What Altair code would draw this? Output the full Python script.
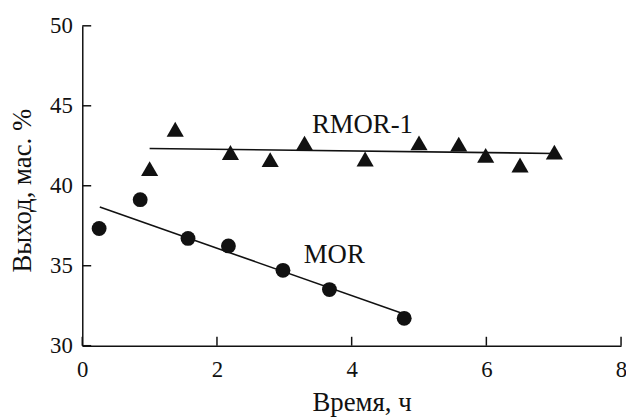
import altair as alt
import pandas as pd

# RMOR-1 (triangles)
rmor_x = [1.0, 1.38, 2.2, 2.79, 3.3, 4.2, 5.0, 5.59, 5.99, 6.5, 7.01]
rmor_y = [41.07, 43.53, 42.08, 41.63, 42.67, 41.67, 42.68, 42.6, 41.9, 41.3, 42.1]
# MOR (circles)
mor_x = [0.25, 0.86, 1.57, 2.17, 2.98, 3.67, 4.78]
mor_y = [37.33, 39.13, 36.71, 36.24, 34.71, 33.51, 31.71]
# fitted lines
rmor_fit_x = [1.0, 7.0]
rmor_fit_y = [42.33, 42.02]
mor_fit_x = [0.26, 4.8]
mor_fit_y = [38.67, 31.95]
# axes
x_ticks = [0, 2, 4, 6, 8]
y_ticks = [30, 35, 40, 45, 50]
# annotations
labels = ["RMOR-1", "MOR"]
label_x = [3.41, 3.29]
label_y = [43.31, 35.16]

W, H = 544, 323
FONT = "Liberation Serif"
INK = "#111111"

xs = alt.Scale(domain=[0, 8], nice=False, zero=False)
ys = alt.Scale(domain=[30, 50], nice=False, zero=False)

xaxis = alt.Axis(values=x_ticks, format="d", title="Время, ч", grid=False, ticks=False,
                 labelFlush=False, labelOverlap=False,
                 domainColor=INK, domainWidth=1.5, labelFont=FONT, labelFontSize=23,
                 labelColor=INK, labelBaseline="alphabetic", labelPadding=31,
                 titleFont=FONT, titleFontSize=27, titleFontWeight="normal",
                 titleColor=INK, titleX=282, titleY=65, titleBaseline="alphabetic",
                 titleAlign="center")
yaxis = alt.Axis(values=y_ticks, format="d", title="Выход, мас. %", grid=False, ticks=False,
                 labelFlush=False, labelOverlap=False,
                 domainColor=INK, domainWidth=1.5, labelFont=FONT, labelFontSize=23,
                 labelColor=INK, labelPadding=10,
                 titleFont=FONT, titleFontSize=27, titleFontWeight="normal",
                 titleColor=INK, titleX=-52, titleY=166, titleBaseline="alphabetic",
                 titleAlign="center", titleAngle=270)

rmor = pd.DataFrame({"x": rmor_x, "y": rmor_y})
mor = pd.DataFrame({"x": mor_x, "y": mor_y})
rfit = pd.DataFrame({"x": rmor_fit_x, "y": rmor_fit_y})
mfit = pd.DataFrame({"x": mor_fit_x, "y": mor_fit_y})
lab = pd.DataFrame({"t": labels, "x": label_x, "y": label_y})
xt = pd.DataFrame({"x": [float(v) for v in x_ticks]})
yt = pd.DataFrame({"y": [float(v) for v in y_ticks]})

base_axes = alt.Chart(rmor).mark_point(opacity=0).encode(
    x=alt.X("x:Q", scale=xs, axis=xaxis),
    y=alt.Y("y:Q", scale=ys, axis=yaxis),
)

rfit_line = alt.Chart(rfit).mark_line(color=INK, strokeWidth=1.6).encode(
    x=alt.X("x:Q", scale=xs), y=alt.Y("y:Q", scale=ys))
mfit_line = alt.Chart(mfit).mark_line(color=INK, strokeWidth=1.6).encode(
    x=alt.X("x:Q", scale=xs), y=alt.Y("y:Q", scale=ys))

tri = alt.Chart(rmor).mark_point(shape="triangle-up", filled=True, color=INK,
                                 size=300, opacity=1, strokeWidth=0).encode(
    x=alt.X("x:Q", scale=xs), y=alt.Y("y:Q", scale=ys))
circ = alt.Chart(mor).mark_point(shape="circle", filled=True, color=INK,
                                 size=225, opacity=1, strokeWidth=0).encode(
    x=alt.X("x:Q", scale=xs), y=alt.Y("y:Q", scale=ys))

txt = alt.Chart(lab).mark_text(font=FONT, fontSize=27, color=INK, align="left",
                               baseline="alphabetic").encode(
    x=alt.X("x:Q", scale=xs), y=alt.Y("y:Q", scale=ys), text="t:N")

xtick = alt.Chart(xt).mark_tick(color=INK, thickness=1.5, size=9, orient="vertical",
                                opacity=1).encode(
    x=alt.X("x:Q", scale=xs), y=alt.value(H - 4.5))
ytick = alt.Chart(yt).mark_tick(color=INK, thickness=1.5, size=9, orient="horizontal",
                                opacity=1).encode(
    y=alt.Y("y:Q", scale=ys), x=alt.value(4.5))

chart = alt.layer(base_axes, xtick, ytick, rfit_line, mfit_line, tri, circ, txt).properties(
    width=W, height=H,
    autosize=alt.AutoSizeParams(type="none"),
    padding={"left": 75, "top": 16, "right": 5, "bottom": 70},
    background="white",
).configure_view(stroke=None)

chart.save("out.html", embed_options={"renderer": "svg", "actions": False})
